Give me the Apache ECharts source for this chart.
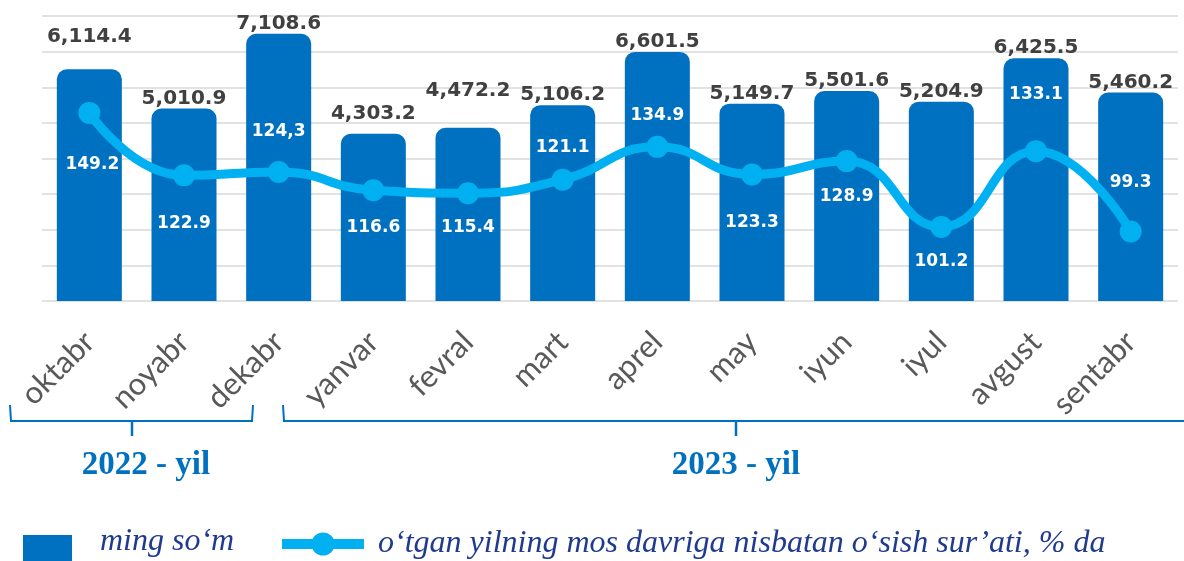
<!DOCTYPE html>
<html>
<head>
<meta charset="utf-8">
<script src="https://cdn.jsdelivr.net/npm/echarts@6/dist/echarts.min.js"></script>
<style>
  html, body { margin: 0; padding: 0; background: #fff; }
  #main { width: 1184px; height: 561px; }
</style>
</head>
<body>
<div id="main"></div>
<script>
var months = ['oktabr', 'noyabr', 'dekabr', 'yanvar', 'fevral', 'mart',
    'aprel', 'may', 'iyun', 'iyul', 'avgust', 'sentabr'];
// ming so'm
var amounts = [6114.4, 5010.9, 7108.6, 4303.2, 4472.2, 5106.2,
    6601.5, 5149.7, 5501.6, 5204.9, 6425.5, 5460.2];
// o'sish sur'ati, %
var growth = [149.2, 122.9, 124.3, 116.6, 115.4, 121.1,
    134.9, 123.3, 128.9, 101.2, 133.1, 99.3];
var growthLabels = ['149.2', '122.9', '124,3', '116.6', '115.4', '121.1',
    '134.9', '123.3', '128.9', '101.2', '133.1', '99.3'];

var barName = 'ming so‘m';
var lineName = 'o‘tgan yilning mos davriga nisbatan o‘sish sur’ati, % da';

// label shifts (px), label placement only
var barLabelShift = { 0: -22, 3: -10, 4: -27 };
var lineLabelShift = [52, 48, -40, 37, 34, -32, -31, 48, 35, 35, -57, -49];

var blue = '#0070C0';
var cyan = '#00B0F0';
var navy = '#1f3a8f';

var myChart = echarts.init(document.getElementById('main'));

var barData = amounts.map(function (v, i) {
    return {
        value: v,
        label: { offset: [0, barLabelShift[i] || 0] }
    };
});
var lineData = growth.map(function (v, i) {
    return {
        value: v,
        label: { offset: [i === 0 ? 3 : 0, lineLabelShift[i]] }
    };
});

var legendText = {
    fontFamily: 'Liberation Serif',
    fontStyle: 'italic',
    fontSize: 32,
    color: navy
};

myChart.setOption({
    animation: false,
    grid: { left: 42, right: 6, top: 16, bottom: 260 },
    legend: [{
        // square sits low, below the text middle
        data: [{ name: barName, icon: 'path://M0,0h1v0.1h-1z M0,16h49v30h-49z' }],
        left: 23,
        top: 519,
        padding: 0,
        itemWidth: 49,
        itemHeight: 46,
        textStyle: Object.assign({ padding: [0, 0, 0, 23] }, legendText)
    }, {
        data: [lineName],
        left: 277,
        top: 528,
        padding: 0,
        itemWidth: 82,
        itemHeight: 29,
        lineStyle: { width: 10 },
        textStyle: Object.assign({ padding: [0, 0, 0, 9] }, legendText)
    }],
    xAxis: {
        type: 'category',
        data: months,
        axisLine: { show: false },
        axisTick: { show: false },
        axisLabel: {
            rotate: 45,
            margin: 36,
            fontFamily: 'Lato',
            fontSize: 31,
            color: '#595959'
        }
    },
    yAxis: [{
        // bars
        type: 'value',
        min: -390,
        max: 7610,
        startValue: -390,
        show: false,
        splitLine: { show: false }
    }, {
        // growth line
        type: 'value',
        min: 70,
        max: 190,
        show: false,
        splitLine: { show: false }
    }, {
        // grid lines only
        type: 'value',
        min: 0,
        max: 8,
        interval: 1,
        axisLine: { show: false },
        axisTick: { show: false },
        axisLabel: { show: false },
        splitLine: { show: true, lineStyle: { color: '#d9d9d9', width: 1.5 } }
    }],
    series: [{
        name: barName,
        type: 'bar',
        yAxisIndex: 0,
        barWidth: 65,
        data: barData,
        itemStyle: { color: blue, borderRadius: [10, 10, 0, 0] },
        label: {
            show: true,
            position: 'top',
            distance: 0,
            fontFamily: 'DejaVu Sans',
            fontWeight: 'bold',
            fontSize: 20,
            color: '#404040',
            formatter: function (p) {
                return p.value.toLocaleString('en-US', { minimumFractionDigits: 1, maximumFractionDigits: 1 });
            }
        },
        z: 2
    }, {
        name: lineName,
        type: 'line',
        yAxisIndex: 1,
        data: lineData,
        smooth: 0.5,
        symbol: 'circle',
        symbolSize: 22,
        lineStyle: { color: cyan, width: 9 },
        itemStyle: { color: cyan },
        label: {
            show: true,
            position: 'inside',
            fontFamily: 'DejaVu Sans',
            fontWeight: 'bold',
            fontSize: 17,
            color: '#fff',
            formatter: function (p) { return growthLabels[p.dataIndex]; }
        },
        z: 3
    }],
    graphic: [{
        type: 'polyline',
        shape: { points: [[10, 405], [11, 421], [252, 421], [253, 405]] },
        style: { stroke: blue, lineWidth: 2, fill: null }
    }, {
        type: 'line',
        shape: { x1: 132, y1: 421, x2: 132, y2: 436 },
        style: { stroke: blue, lineWidth: 2.5 }
    }, {
        type: 'polyline',
        shape: { points: [[283, 405], [284, 421], [1184, 421]] },
        style: { stroke: blue, lineWidth: 2, fill: null }
    }, {
        type: 'line',
        shape: { x1: 736, y1: 421, x2: 736, y2: 436 },
        style: { stroke: blue, lineWidth: 2.5 }
    }, {
        type: 'text',
        x: 146,
        y: 482,
        style: {
            text: '2022 - yil',
            fontFamily: 'Liberation Serif',
            fontWeight: 'bold',
            fontSize: 33,
            fill: blue,
            textAlign: 'center',
            textVerticalAlign: 'bottom'
        }
    }, {
        type: 'text',
        x: 736,
        y: 482,
        style: {
            text: '2023 - yil',
            fontFamily: 'Liberation Serif',
            fontWeight: 'bold',
            fontSize: 33,
            fill: blue,
            textAlign: 'center',
            textVerticalAlign: 'bottom'
        }
    }]
});
</script>
</body>
</html>
